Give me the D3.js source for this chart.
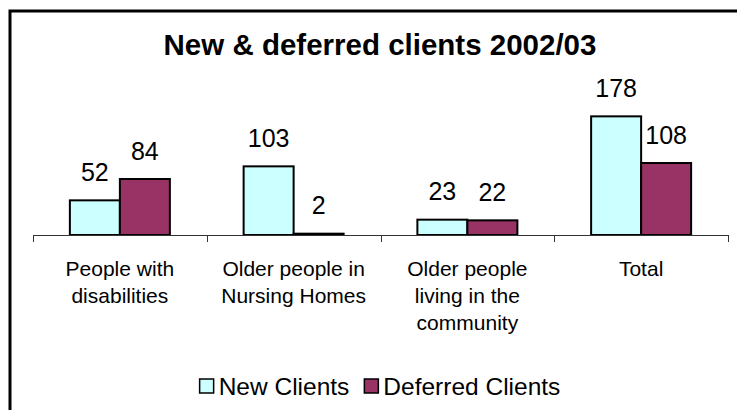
<!DOCTYPE html>
<html>
<head>
<meta charset="utf-8">
<script src="https://cdn.jsdelivr.net/npm/d3@7"></script>
<style>
  body { margin: 0; background: #fff; }
  svg text { font-family: "Liberation Sans", Arial, sans-serif; fill: #000; }
</style>
</head>
<body>
<div id="chart"></div>
<script>
const categories = [
    ["People with", "disabilities"],
    ["Older people in", "Nursing Homes"],
    ["Older people", "living in the", "community"],
    ["Total"]
];
const seriesNames = ["New Clients", "Deferred Clients"];
const newClients = [52, 103, 23, 178];
const deferredClients = [84, 2, 22, 108];
const seriesColors = ["#CCFFFF", "#993366"];

(function() {
    const width = 737, height = 410;
    const plot = { left: 33, right: 728, bottom: 235, top: 101.7 };

    const svg = d3.select("#chart").append("svg")
        .attr("width", width)
        .attr("height", height);

    // chart frame, runs off the right and bottom edge
    svg.append("rect")
        .attr("x", 10).attr("y", 11)
        .attr("width", 800).attr("height", 500)
        .attr("fill", "none")
        .attr("stroke", "#000")
        .attr("stroke-width", 3);

    svg.append("text")
        .attr("x", 380).attr("y", 55)
        .attr("text-anchor", "middle")
        .style("font-size", "29.5px")
        .style("font-weight", "bold")
        .text("New & deferred clients 2002/03");

    const keys = categories.map((c, i) => i);

    const x0 = d3.scaleBand()
        .domain(keys)
        .range([plot.left, plot.right]);

    const x1 = d3.scaleBand()
        .domain(seriesNames)
        .range([0, x0.bandwidth()])
        .paddingOuter(0.7375);

    const y = d3.scaleLinear()
        .domain([0, 200])
        .range([plot.bottom, plot.top]);

    const rows = keys.map(i => ({
        i: i,
        values: [
            { name: seriesNames[0], value: newClients[i], color: seriesColors[0] },
            { name: seriesNames[1], value: deferredClients[i], color: seriesColors[1] }
        ]
    }));

    const groups = svg.selectAll("g.group")
        .data(rows)
        .enter().append("g")
        .attr("class", "group")
        .attr("transform", d => `translate(${x0(d.i)},0)`);

    groups.selectAll("rect")
        .data(d => d.values)
        .enter().append("rect")
        .attr("x", d => x1(d.name))
        .attr("y", d => y(d.value))
        .attr("width", x1.bandwidth())
        .attr("height", d => y(0) - y(d.value))
        .attr("fill", d => d.color)
        .attr("stroke", "#000")
        .attr("stroke-width", 2);

    groups.selectAll("text.value")
        .data(d => d.values)
        .enter().append("text")
        .attr("class", "value")
        .attr("x", d => x1(d.name) + x1.bandwidth() / 2)
        .attr("y", d => y(d.value) - 19.5)
        .attr("text-anchor", "middle")
        .style("font-size", "25px")
        .text(d => d.value);

    // category axis with ticks between the groups
    const axis = svg.append("g").attr("class", "x-axis");
    axis.append("line")
        .attr("x1", plot.left).attr("x2", plot.right)
        .attr("y1", y(0) + 0.5).attr("y2", y(0) + 0.5)
        .attr("stroke", "#333").attr("stroke-width", 1);

    const tickXs = keys.map(k => x0(k)).concat([x0.range()[1]]);
    axis.selectAll("line.tick")
        .data(tickXs)
        .enter().append("line")
        .attr("class", "tick")
        .attr("x1", d => Math.round(d) + 0.5).attr("x2", d => Math.round(d) + 0.5)
        .attr("y1", y(0)).attr("y2", y(0) + 7)
        .attr("stroke", "#333").attr("stroke-width", 1);

    const catLabels = axis.selectAll("text.cat")
        .data(rows)
        .enter().append("text")
        .attr("class", "cat")
        .attr("text-anchor", "middle")
        .attr("y", 276)
        .style("font-size", "21px");

    catLabels.selectAll("tspan")
        .data(d => categories[d.i].map(line => ({ line: line, cx: x0(d.i) + x0.bandwidth() / 2 })))
        .enter().append("tspan")
        .attr("x", d => d.cx)
        .attr("dy", (d, j) => j === 0 ? 0 : 27)
        .text(d => d.line);

    // legend, centred under the chart
    const legend = svg.append("g").attr("class", "legend");
    const items = legend.selectAll("g")
        .data(seriesNames)
        .enter().append("g");

    items.append("rect")
        .attr("width", 14).attr("height", 14)
        .attr("y", 379)
        .attr("fill", (d, i) => seriesColors[i])
        .attr("stroke", "#000")
        .attr("stroke-width", 1.5);

    items.append("text")
        .attr("x", 19)
        .attr("y", 395)
        .style("font-size", "24.5px")
        .text(d => d);

    let cursor = 0;
    const offsets = [];
    items.each(function() {
        offsets.push(cursor);
        const w = d3.select(this).select("text").node().getComputedTextLength();
        cursor += 19 + w + 15;
    });
    const total = cursor - 15;
    const startX = 380 - total / 2;
    items.attr("transform", (d, i) => `translate(${startX + offsets[i]},0)`);
})();
</script>
</body>
</html>
